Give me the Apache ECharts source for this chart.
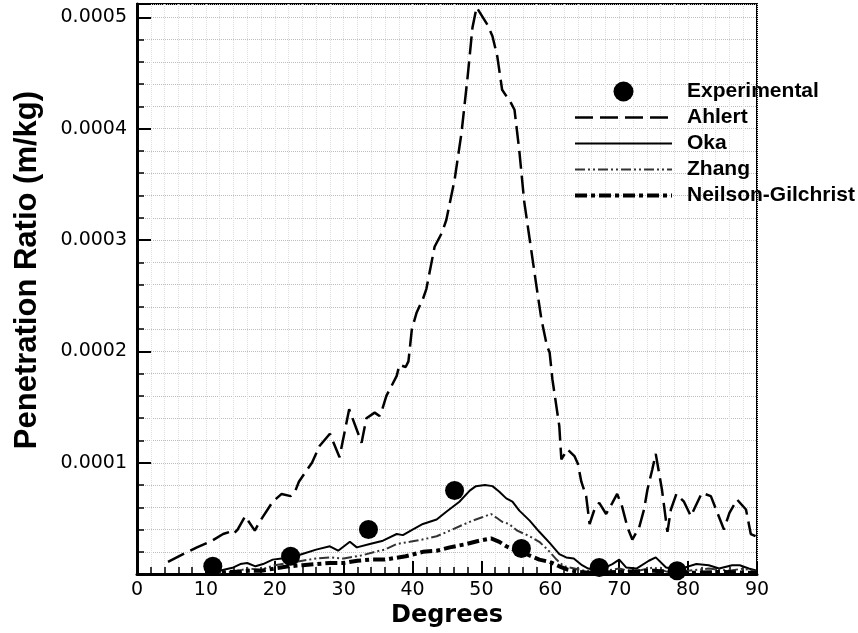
<!DOCTYPE html>
<html>
<head>
<meta charset="utf-8">
<script src="https://cdn.jsdelivr.net/npm/echarts@6/dist/echarts.min.js"></script>
<style>html,body{margin:0;padding:0;background:#fff}#c{width:858px;height:633px}</style>
</head>
<body>
<div id="c"></div>
<script>
// Values are in units of 1e-4 m/kg; [degrees, value]
const experimental = [[11,0.07],[22.3,0.16],[33.6,0.40],[46.1,0.75],[55.8,0.23],[67.1,0.06],[78.4,0.03]];
const ahlert = [[4.5,0.11],[7.7,0.21],[8.7,0.24],[10.9,0.30],[12.5,0.36],[13.5,0.38],[14.0,0.36],[14.6,0.40],[15.7,0.52],[17.1,0.39],[17.8,0.47],[19.7,0.65],[21,0.72],[22.3,0.70],[23,0.75],[23.5,0.83],[25.4,1.0],[26.5,1.15],[28,1.26],[29.4,1.05],[30.8,1.48],[32.6,1.18],[33.3,1.40],[34.5,1.45],[35.2,1.42],[35.6,1.48],[36.2,1.60],[37.7,1.78],[38.1,1.88],[39.0,1.86],[39.4,1.91],[39.9,2.20],[40.6,2.35],[41.5,2.47],[42.0,2.56],[43.2,2.94],[44.3,3.07],[44.9,3.18],[46.1,3.54],[47.1,3.96],[48,4.47],[48.7,4.91],[49.3,5.09],[50.9,4.93],[51.6,4.83],[52.3,4.65],[53,4.35],[54.3,4.23],[54.8,4.17],[55.5,3.8],[56.2,3.35],[56.9,3.05],[58,2.58],[58.7,2.29],[59.5,2.05],[59.9,1.99],[60.3,1.75],[61.3,1.33],[61.6,1.03],[62.5,1.12],[63.5,1.06],[64.0,0.99],[64.5,0.83],[65.2,0.70],[65.7,0.45],[66.4,0.58],[67.1,0.64],[68.1,0.54],[69,0.64],[69.7,0.72],[70.4,0.61],[71.2,0.42],[71.9,0.31],[72.9,0.42],[73.6,0.58],[74.1,0.76],[74.8,0.94],[75.3,1.08],[76.2,0.76],[77,0.38],[77.5,0.58],[78.3,0.72],[79.4,0.65],[80.4,0.52],[82,0.73],[83.3,0.70],[85.2,0.40],[86,0.55],[87.1,0.67],[88.4,0.58],[89.1,0.36],[89.8,0.34]];
const oka = [[10,0.02],[12,0.03],[14,0.06],[15,0.09],[16,0.10],[17.2,0.07],[18.3,0.09],[19.7,0.13],[21,0.14],[22.5,0.15],[24,0.18],[26,0.22],[28,0.25],[29.2,0.21],[30.9,0.29],[31.9,0.24],[33.8,0.27],[35.7,0.30],[37.7,0.36],[38.6,0.35],[40,0.40],[41.5,0.45],[43.5,0.49],[44.9,0.56],[46.8,0.65],[48.3,0.75],[49.2,0.79],[50.5,0.80],[51.6,0.79],[52.6,0.74],[53.6,0.68],[54.5,0.65],[55.5,0.57],[57,0.48],[58.4,0.38],[59.9,0.28],[61.3,0.18],[62.3,0.15],[63.4,0.14],[64.6,0.08],[65.5,0.05],[67,0.03],[69,0.09],[70,0.13],[71,0.06],[72.5,0.05],[74.3,0.12],[75.3,0.15],[76.8,0.06],[78.5,0.04],[81.2,0.09],[83,0.08],[84.5,0.05],[86.4,0.08],[87.5,0.08],[88.8,0.05],[90,0.03]];
const zhang = [[10,0.01],[14,0.02],[16,0.05],[18,0.04],[20,0.08],[22,0.10],[24,0.12],[26,0.14],[28,0.15],[30,0.14],[32.8,0.17],[34.5,0.20],[36,0.22],[37.7,0.27],[39.6,0.29],[41.4,0.31],[43.5,0.34],[45.4,0.39],[47.2,0.44],[48.7,0.48],[50.1,0.51],[51.4,0.54],[52.1,0.51],[53,0.47],[54,0.45],[55.2,0.39],[57,0.34],[58.4,0.29],[59.6,0.22],[60.9,0.13],[62,0.07],[63.5,0.05],[65,0.03],[67,0.02],[70,0.05],[72,0.02],[75,0.06],[77,0.02],[80,0.03],[83,0.05],[86,0.03],[88,0.05],[90,0.02]];
const neilsonGilchrist = [[10,0.01],[14,0.02],[16,0.03],[18,0.03],[20,0.05],[22,0.07],[24,0.08],[26,0.09],[28,0.10],[30,0.10],[32,0.12],[33.8,0.13],[36,0.13],[39,0.16],[41.5,0.20],[43.5,0.21],[45.4,0.24],[47.8,0.27],[49.7,0.30],[51.4,0.32],[52.6,0.29],[53.6,0.25],[55,0.21],[56.5,0.18],[58.4,0.13],[59.9,0.11],[61.3,0.07],[62.5,0.04],[64,0.02],[66,0.01],[70,0.02],[75,0.03],[80,0.01],[85,0.02],[90,0.01]];
const seriesNames = ['Experimental','Ahlert','Oka','Zhang','Neilson-Gilchrist'];

const styles = {
  'Ahlert': {width:2.5, color:'#000', type:[18,7]},
  'Oka': {width:2, color:'#000', type:'solid'},
  'Zhang': {width:2, color:'#333', type:[10,3,2,3,2,3]},
  'Neilson-Gilchrist': {width:4, color:'#000', type:[12,4,4,4]}
};

const chart = echarts.init(document.getElementById('c'), null, {renderer:'canvas'});
const lbl = {fontFamily:'DejaVu Sans', fontSize:19, color:'#000'};
function lineSeries(name, data){
  const ls = styles[name];
  return {name, type:'line', data, showSymbol:false, symbol:'none', smooth:false, lineStyle:ls, itemStyle:{color:ls.color}, z:3, silent:true, animation:false};
}
chart.setOption({
  animation:false,
  backgroundColor:'#fff',
  grid:{left:137, right:101, top:4, bottom:58, show:true, borderColor:'#000', borderWidth:2, backgroundColor:'transparent'},
  legend:{
    orient:'vertical', left:568, top:76, itemWidth:97, itemHeight:20, itemGap:5,
    data:seriesNames.map(function(n, i){
      if (i === 0) return {name:n, itemStyle:{opacity:1}};
      const s = styles[n];
      return {name:n, itemStyle:{opacity:0}, lineStyle:{width:s.width, type:s.type, color:s.color}};
    }),
    textStyle:{fontFamily:'Liberation Sans', fontWeight:'bold', fontSize:21, color:'#000', padding:[0,0,0,10]},
    selectedMode:false
  },
  xAxis:{
    type:'value', min:0, max:90, interval:10,
    name:'Degrees', nameLocation:'middle', nameGap:25,
    nameTextStyle:{fontFamily:'DejaVu Sans', fontWeight:'bold', fontSize:24, color:'#000'},
    axisLine:{show:true, onZero:false, lineStyle:{color:'#000', width:3}},
    axisTick:{inside:true, length:13, lineStyle:{color:'#000', width:2}},
    minorTick:{show:true, splitNumber:5, length:7, lineStyle:{color:'#000', width:1.5}},
    axisLabel:Object.assign({margin:6}, lbl),
    splitLine:{show:true, lineStyle:{type:'dotted', color:'#dedede', width:1}},
    minorSplitLine:{show:true, lineStyle:{type:'dotted', color:'#dedede', width:1}}
  },
  yAxis:{
    type:'value', min:0, max:5.12, interval:1,
    name:'Penetration Ratio (m/kg)', nameLocation:'middle', nameGap:94, nameRotate:90,
    nameTextStyle:{fontFamily:'Liberation Sans', fontWeight:'bold', fontSize:31, color:'#000', padding:[0,0,0,38]},
    axisLine:{show:true, onZero:false, lineStyle:{color:'#000', width:3}},
    axisTick:{inside:true, length:14, lineStyle:{color:'#000', width:2}},
    minorTick:{show:true, splitNumber:5, length:7, lineStyle:{color:'#000', width:1.5}},
    axisLabel:Object.assign({margin:10, formatter:function(v){
      if (v === 0) return '';
      if (Math.abs(v - Math.round(v)) > 1e-6) return '';
      return (v/10000).toFixed(4);
    }}, lbl),
    splitLine:{show:true, lineStyle:{type:'dotted', color:'#bdbdbd', width:1}},
    minorSplitLine:{show:true, lineStyle:{type:'dotted', color:'#bdbdbd', width:1}}
  },
  series:[
    {name:'Experimental', type:'scatter', data:experimental, symbol:'circle', symbolSize:19, itemStyle:{color:'#000', opacity:1}, z:5, silent:true},
    lineSeries('Ahlert', ahlert),
    lineSeries('Oka', oka),
    lineSeries('Zhang', zhang),
    lineSeries('Neilson-Gilchrist', neilsonGilchrist)
  ]
});
</script>
</body>
</html>
